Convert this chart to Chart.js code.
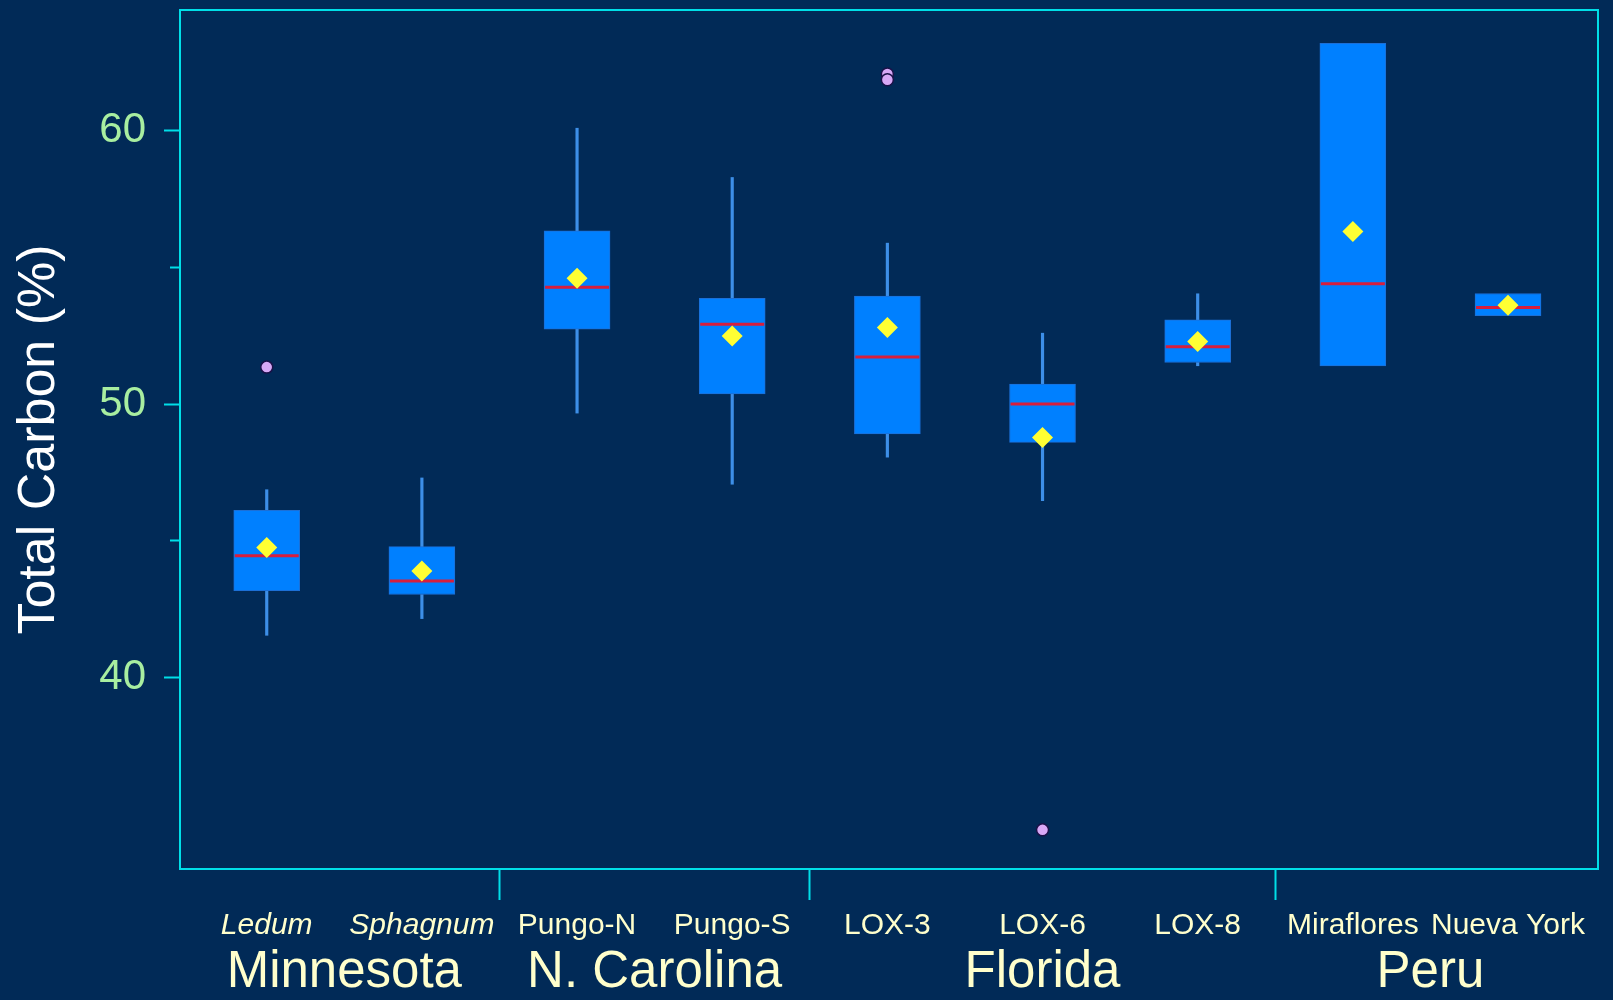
<!DOCTYPE html>
<html>
<head>
<meta charset="utf-8">
<script src="https://cdn.jsdelivr.net/npm/chart.js@4.4.1/dist/chart.umd.min.js"></script>
<style>
html,body{margin:0;padding:0;background:#012a57;overflow:hidden}
canvas{display:block}
</style>
</head>
<body>
<canvas id="c" width="1613" height="1000"></canvas>
<script>
// ---------------- data ----------------
const categories = ['Ledum','Sphagnum','Pungo-N','Pungo-S','LOX-3','LOX-6','LOX-8','Miraflores','Nueva York'];
const regions = ['Minnesota','Minnesota','N. Carolina','N. Carolina','Florida','Florida','Florida','Peru','Peru'];
const italicCategories = ['Ledum','Sphagnum'];
const whiskerLow  = [41.55, 42.16, 49.67, 47.07, 48.06, 46.47, 51.40, null, null];
const q1          = [43.18, 43.04, 52.74, 50.37, 48.91, 48.60, 51.52, 51.39, 53.23];
const medians     = [44.46, 43.53, 54.27, 52.92, 51.72, 50.00, 52.09, 54.40, 53.53];
const q3          = [46.12, 44.79, 56.33, 53.86, 53.95, 50.73, 53.08, 63.18, 54.04];
const whiskerHigh = [46.87, 47.30, 60.08, 58.28, 55.88, 52.59, 54.03, null, null];
const means       = [44.76, 43.90, 54.60, 52.49, 52.80, 48.78, 52.29, 56.31, 53.61];
const outlierCategory = ['Ledum','LOX-3','LOX-3','LOX-6'];
const outlierValues   = [51.35, 62.06, 61.85, 34.44];
const yMajorTicks = [40, 50, 60];
const yMinorTicks = [45, 55];

// ---------------- derived ----------------
const groupNames = [...new Set(regions)];
const groupCenters = groupNames.map(g => {
  const idx = regions.map((r,i)=>r===g?i:-1).filter(i=>i>=0);
  return idx.reduce((a,b)=>a+b,0)/idx.length;
});
const dividers = [];
for (let i=0;i<regions.length-1;i++) if (regions[i]!==regions[i+1]) dividers.push(i+0.5);

const boxData = categories.map((c,i)=>({x:i, y:[q1[i], q3[i]]}));
const lowWhiskers = [], highWhiskers = [];
categories.forEach((c,i)=>{
  if (whiskerLow[i]!==null) lowWhiskers.push({x:i, y:[whiskerLow[i], q1[i]]});
  if (whiskerHigh[i]!==null) highWhiskers.push({x:i, y:[q3[i], whiskerHigh[i]]});
});
const medianData = medians.map((v,i)=>({x:i, y:v}));
const meanData = means.map((v,i)=>({x:i, y:v}));
const outlierData = outlierValues.map((v,k)=>({x:categories.indexOf(outlierCategory[k]), y:v}));

// ---------------- style ----------------
const FONT = "'Liberation Sans', Arial, Helvetica, sans-serif";
const CYAN = '#00dfe8';
const X_MIN = -0.559, X_MAX = 8.58;
const Y_MIN = 33.01, Y_MAX = 64.40;

function zeroPad(s){ s.paddingLeft=0; s.paddingRight=0; s.paddingTop=0; s.paddingBottom=0; }

const framePlugin = {
  id:'frame',
  afterDraw(chart){
    const {ctx, chartArea:a} = chart;
    ctx.save();
    ctx.strokeStyle = CYAN;
    ctx.lineWidth = 2;
    ctx.strokeRect(a.left, a.top, a.right-a.left, a.bottom-a.top);
    ctx.restore();
  }
};

const common = {xAxisID:'x', yAxisID:'y'};

new Chart(document.getElementById('c'), {
  type:'bar',
  data:{
    datasets:[
      Object.assign({type:'bar', data:lowWhiskers, backgroundColor:'#3d8fe8', barThickness:2.5, grouped:false, order:6, borderWidth:0}, common),
      Object.assign({type:'bar', data:highWhiskers, backgroundColor:'#3d8fe8', barThickness:2.5, grouped:false, order:6, borderWidth:0}, common),
      Object.assign({type:'bar', data:boxData, backgroundColor:'#0080ff', borderColor:'#1c6fd6', borderWidth:1, borderSkipped:false, barThickness:66, grouped:false, order:4}, common),
      Object.assign({type:'scatter', data:medianData, pointStyle:'line', pointRadius:32, pointBorderColor:'#d81e3c', pointBorderWidth:3, order:3}, common),
      Object.assign({type:'scatter', data:meanData, pointStyle:'rectRot', pointRadius:10.5, pointBackgroundColor:'#ffff33', pointBorderWidth:0, order:2}, common),
      Object.assign({type:'scatter', data:outlierData, pointStyle:'circle', pointRadius:6, pointBackgroundColor:'#d8a8f6', pointBorderColor:'#1b1148', pointBorderWidth:1.5, order:1}, common)
    ]
  },
  options:{
    responsive:false,
    animation:false,
    devicePixelRatio:1,
    layout:{autoPadding:false, padding:{top:10, right:15, left:0, bottom:0}},
    plugins:{legend:{display:false}, tooltip:{enabled:false}},
    scales:{
      y:{
        type:'linear', position:'left', weight:1, min:Y_MIN, max:Y_MAX, beginAtZero:false,
        afterBuildTicks:s=>{ s.ticks = yMajorTicks.map(v=>({value:v})); },
        afterFit:s=>{ s.width = 180; zeroPad(s); },
        ticks:{color:'#a8eea0', padding:18, autoSkip:false, font:{family:FONT, size:42, lineHeight:1}, callback:v=>String(v)},
        grid:{display:true, drawOnChartArea:false, drawTicks:true, tickLength:16, tickWidth:2, tickColor:CYAN},
        border:{display:false},
        title:{display:true, text:'Total Carbon (%)', color:'#ffffff', font:{family:FONT, size:52, lineHeight:1}, padding:{top:14, bottom:0}}
      },
      y2:{
        type:'linear', position:'left', weight:0, min:Y_MIN, max:Y_MAX, beginAtZero:false,
        afterBuildTicks:s=>{ s.ticks = yMinorTicks.map(v=>({value:v})); },
        afterFit:s=>{ s.width = 0; zeroPad(s); },
        ticks:{display:false},
        grid:{display:true, drawOnChartArea:false, drawTicks:true, tickLength:10, tickWidth:2, tickColor:CYAN},
        border:{display:false}
      },
      x2:{
        type:'linear', position:'bottom', weight:0, min:X_MIN, max:X_MAX, offset:false,
        afterBuildTicks:s=>{ s.ticks = dividers.map(v=>({value:v})); },
        afterFit:s=>{ s.height = 0; zeroPad(s); },
        ticks:{display:false},
        grid:{display:true, offset:false, drawOnChartArea:false, drawTicks:true, tickLength:31, tickWidth:2, tickColor:CYAN},
        border:{display:false}
      },
      x:{
        type:'linear', position:'bottom', weight:1, min:X_MIN, max:X_MAX, offset:false,
        afterBuildTicks:s=>{ s.ticks = categories.map((c,i)=>({value:i})); },
        afterFit:s=>{ s.height = 75; zeroPad(s); },
        ticks:{
          color:'#ffffcc', padding:42, autoSkip:false, maxRotation:0, minRotation:0,
          callback:v=>categories[Math.round(v)],
          font:ctx=>({family:FONT, size:30, lineHeight:1,
            style: (ctx.tick && italicCategories.includes(categories[Math.round(ctx.tick.value)])) ? 'italic' : 'normal'})
        },
        grid:{display:false, drawTicks:false, offset:false},
        border:{display:false}
      },
      x3:{
        type:'linear', position:'bottom', weight:2, min:X_MIN, max:X_MAX, offset:false,
        afterBuildTicks:s=>{ s.ticks = groupCenters.map(v=>({value:v})); },
        afterFit:s=>{ s.height = 56; zeroPad(s); },
        ticks:{color:'#ffffcc', padding:3, autoSkip:false, maxRotation:0, minRotation:0,
          callback:(v,i)=>groupNames[i], font:{family:FONT, size:51, lineHeight:1}},
        grid:{display:false, drawTicks:false, offset:false},
        border:{display:false}
      }
    }
  },
  plugins:[framePlugin]
});
</script>
</body>
</html>
